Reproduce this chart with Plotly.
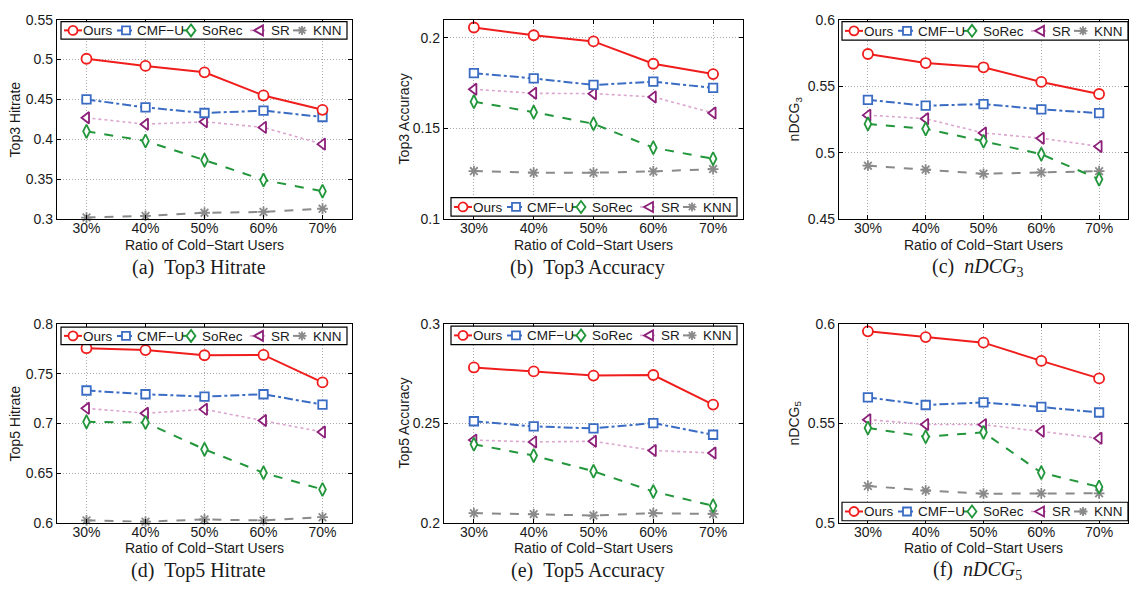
import plotly.graph_objects as go

W, H = 1130, 591

# ---------------- data ----------------
ratios = ["30%", "40%", "50%", "60%", "70%"]
methods = ["Ours", "CMF\u2212U", "SoRec", "SR", "KNN"]

hit3_ours = [0.501, 0.492, 0.484, 0.455, 0.437]
hit3_cmfu = [0.450, 0.440, 0.433, 0.436, 0.428]
hit3_sorec = [0.410, 0.398, 0.374, 0.349, 0.335]
hit3_sr = [0.427, 0.419, 0.422, 0.415, 0.394]
hit3_knn = [0.302, 0.304, 0.308, 0.309, 0.313]

acc3_ours = [0.2057, 0.2014, 0.1980, 0.1857, 0.1800]
acc3_cmfu = [0.1805, 0.1776, 0.1740, 0.1758, 0.1724]
acc3_sorec = [0.1648, 0.1590, 0.1526, 0.1394, 0.1333]
acc3_sr = [0.1716, 0.1694, 0.1692, 0.1674, 0.1585]
acc3_knn = [0.1265, 0.1256, 0.1256, 0.1263, 0.1276]

ndcg3_ours = [0.5742, 0.5674, 0.5642, 0.5532, 0.5441]
ndcg3_cmfu = [0.5397, 0.5353, 0.5365, 0.5326, 0.5297]
ndcg3_sorec = [0.5216, 0.5179, 0.5086, 0.4988, 0.4800]
ndcg3_sr = [0.5282, 0.5255, 0.5148, 0.5108, 0.5047]
ndcg3_knn = [0.4902, 0.4873, 0.4841, 0.4851, 0.4861]

hit5_ours = [0.7758, 0.7739, 0.7687, 0.7690, 0.7413]
hit5_cmfu = [0.7332, 0.7294, 0.7271, 0.7294, 0.7190]
hit5_sorec = [0.7016, 0.7010, 0.6739, 0.6503, 0.6335]
hit5_sr = [0.7152, 0.7103, 0.7142, 0.7029, 0.6913]
hit5_knn = [0.6023, 0.6010, 0.6032, 0.6023, 0.6055]

acc5_ours = [0.2782, 0.2762, 0.2741, 0.2744, 0.2595]
acc5_cmfu = [0.2511, 0.2485, 0.2475, 0.2502, 0.2443]
acc5_sorec = [0.2395, 0.2338, 0.2259, 0.2157, 0.2085]
acc5_sr = [0.2416, 0.2407, 0.2410, 0.2364, 0.2351]
acc5_knn = [0.2048, 0.2043, 0.2036, 0.2048, 0.2044]

ndcg5_ours = [0.5964, 0.5935, 0.5907, 0.5815, 0.5727]
ndcg5_cmfu = [0.5631, 0.5593, 0.5606, 0.5583, 0.5555]
ndcg5_sorec = [0.5477, 0.5433, 0.5455, 0.5252, 0.5180]
ndcg5_sr = [0.5519, 0.5495, 0.5494, 0.5461, 0.5425]
ndcg5_knn = [0.5185, 0.5162, 0.5146, 0.5148, 0.5148]

hit3_ticks = [0.3, 0.35, 0.4, 0.45, 0.5, 0.55]
hit3_ticklabels = ["0.3", "0.35", "0.4", "0.45", "0.5", "0.55"]
acc3_ticks = [0.1, 0.15, 0.2]
acc3_ticklabels = ["0.1", "0.15", "0.2"]
ndcg3_ticks = [0.45, 0.5, 0.55, 0.6]
ndcg3_ticklabels = ["0.45", "0.5", "0.55", "0.6"]
hit5_ticks = [0.6, 0.65, 0.7, 0.75, 0.8]
hit5_ticklabels = ["0.6", "0.65", "0.7", "0.75", "0.8"]
acc5_ticks = [0.2, 0.25, 0.3]
acc5_ticklabels = ["0.2", "0.25", "0.3"]
ndcg5_ticks = [0.5, 0.55, 0.6]
ndcg5_ticklabels = ["0.5", "0.55", "0.6"]

y_titles = ["Top3 Hitrate", "Top3 Accuracy", "nDCG<sub>3</sub>",
            "Top5 Hitrate", "Top5 Accuracy", "nDCG<sub>5</sub>"]
captions = ["(a)\u2002Top3 Hitrate", "(b)\u2002Top3 Accuracy", "(c)\u2002<i>nDCG</i><sub>3</sub>",
            "(d)\u2002Top5 Hitrate", "(e)\u2002Top5 Accuracy", "(f)\u2002<i>nDCG</i><sub>5</sub>"]
x_title = "Ratio of Cold\u2212Start Users"

panels_data = [
    [hit3_ours, hit3_cmfu, hit3_sorec, hit3_sr, hit3_knn],
    [acc3_ours, acc3_cmfu, acc3_sorec, acc3_sr, acc3_knn],
    [ndcg3_ours, ndcg3_cmfu, ndcg3_sorec, ndcg3_sr, ndcg3_knn],
    [hit5_ours, hit5_cmfu, hit5_sorec, hit5_sr, hit5_knn],
    [acc5_ours, acc5_cmfu, acc5_sorec, acc5_sr, acc5_knn],
    [ndcg5_ours, ndcg5_cmfu, ndcg5_sorec, ndcg5_sr, ndcg5_knn],
]
panels_ticks = [
    (hit3_ticks, hit3_ticklabels, [0.3, 0.55]),
    (acc3_ticks, acc3_ticklabels, [0.1, 0.21]),
    (ndcg3_ticks, ndcg3_ticklabels, [0.45, 0.6]),
    (hit5_ticks, hit5_ticklabels, [0.6, 0.8]),
    (acc5_ticks, acc5_ticklabels, [0.2, 0.3]),
    (ndcg5_ticks, ndcg5_ticklabels, [0.5, 0.6]),
]

# ---------------- styles / layout ----------------
FONT = "Liberation Sans, Arial, Helvetica, sans-serif"
SERIF = "Liberation Serif, Times New Roman, serif"
TXT = "#1a1a1a"

styles = [
    dict(color="#f01d1d", line_color="#f01d1d", dash="solid", symbol="circle", size=10, lw=2.0),
    dict(color="#3b6cc4", line_color="#3b6cc4", dash="dashdot", symbol="square", size=8.5, lw=2.0),
    dict(color="#22963a", line_color="#22963a", dash="dash", symbol="diamond-tall", size=9.5, lw=2.0),
    dict(color="#8c1f78", line_color="#dba6cf", dash="dot", symbol="triangle-left", size=10, lw=1.6),
    dict(color="#8a8a8a", line_color="#8a8a8a", dash="dash", symbol="asterisk-open", size=9, lw=2.0),
]

# plot boxes in pixels (left, right, top, bottom)
boxes = [
    (57, 352, 12, 217), (444, 743, 12, 217), (839, 1128, 12, 217),
    (57, 352, 325, 529), (444, 743, 325, 529), (839, 1128, 325, 529),
]
# legend boxes (left, top, bottom)
legend_boxes = [
    (61, 14, 32), (451, 195, 214), (842, 14, 33),
    (61, 328, 346), (451, 327, 346), (842, 508, 527),
]
LEG_W = 286
sym_off = [12, 65, 130, 198, 241]
txt_off = [21, 75, 140, 209, 251]


def px(x):
    return x / W


def py(y):
    return 1 - y / H


fig = go.Figure()
layout = dict(
    width=W, height=H, margin=dict(l=0, r=0, t=0, b=0),
    paper_bgcolor="white", plot_bgcolor="white", showlegend=False,
    font=dict(family=FONT, size=14, color=TXT),
)
shapes = []
annotations = []

for i, (data, (tv, tt, yr), box) in enumerate(zip(panels_data, panels_ticks, boxes)):
    n = i + 1
    xa = "x" if n == 1 else f"x{n}"
    ya = "y" if n == 1 else f"y{n}"
    l, r, t, b = box
    axis_common = dict(
        showgrid=True, gridcolor="#a8a8a8", griddash="1px,2px", gridwidth=1,
        showline=True, linecolor="black", linewidth=1.3, mirror="ticks",
        ticks="inside", ticklen=4, tickcolor="black", zeroline=False,
        tickfont=dict(family=FONT, size=14, color=TXT),
    )
    layout["xaxis" if n == 1 else f"xaxis{n}"] = dict(
        axis_common, domain=[px(l), px(r)], anchor=ya, type="category",
        range=[-0.5, 4.5], categoryorder="array", categoryarray=ratios,
        ticklabelstandoff=-4,
    )
    layout["yaxis" if n == 1 else f"yaxis{n}"] = dict(
        axis_common, domain=[py(b), py(t)], anchor=xa, range=yr,
        tickvals=tv, ticktext=tt,
    )
    # traces (draw KNN first so Ours ends on top)
    for k in [4, 3, 2, 1, 0]:
        s = styles[k]
        open_sym = s["symbol"].endswith("-open")
        fig.add_trace(go.Scatter(
            x=ratios, y=data[k], xaxis=xa, yaxis=ya, mode="lines+markers",
            name=methods[k],
            line=dict(color=s["line_color"], width=s["lw"], dash=s["dash"]),
            marker=dict(symbol=s["symbol"], size=s["size"],
                        color=s["color"] if open_sym else "white",
                        line=dict(color=s["color"], width=1.8)),
            cliponaxis=False,
        ))
    # axis titles
    cx = (l + r) / 2
    annotations.append(dict(text=x_title, x=px(cx), y=py(243.5 if n <= 3 else 555.5),
                            xref="paper", yref="paper", showarrow=False,
                            font=dict(family=FONT, size=14, color=TXT),
                            xanchor="center", yanchor="middle"))
    ytx = [15, 404, 795][i % 3]
    annotations.append(dict(text=y_titles[i], x=px(ytx), y=py((t + b) / 2),
                            xref="paper", yref="paper", showarrow=False, textangle=-90,
                            font=dict(family=FONT, size=14, color=TXT),
                            xanchor="center", yanchor="middle"))
    annotations.append(dict(text=captions[i], x=px(cx - 6), y=py(267 if n <= 3 else 578),
                            xref="paper", yref="paper", showarrow=False,
                            font=dict(family=SERIF, size=20, color=TXT),
                            xanchor="center", yanchor="middle"))
    # legend
    lx, lt, lb = legend_boxes[i]
    shapes.append(dict(type="rect", xref="paper", yref="paper",
                       x0=px(lx), x1=px(lx + LEG_W), y0=py(lb), y1=py(lt),
                       line=dict(color="black", width=1.2), fillcolor="white", layer="above"))
    cy = (lt + lb) / 2
    for k in range(5):
        s = styles[k]
        scx = lx + sym_off[k]
        shapes.append(dict(type="line", xref="paper", yref="paper",
                           x0=px(scx - 9), x1=px(scx + 9), y0=py(cy), y1=py(cy),
                           line=dict(color=s["line_color"], width=s["lw"], dash=s["dash"]),
                           layer="above"))
        base = dict(xref="paper", yref="paper", xsizemode="pixel", ysizemode="pixel",
                    xanchor=px(scx), yanchor=py(cy), layer="above",
                    line=dict(color=s["color"], width=1.8), fillcolor="white")
        if k == 0:
            shapes.append(dict(base, type="circle", x0=-4.5, x1=4.5, y0=-4.5, y1=4.5))
        elif k == 1:
            shapes.append(dict(base, type="rect", x0=-4, x1=4, y0=-4, y1=4))
        elif k == 2:
            shapes.append(dict(base, type="path", path="M0,6 L4.5,0 L0,-6 L-4.5,0 Z"))
        elif k == 3:
            shapes.append(dict(base, type="path", path="M4,5 L-5,0 L4,-5 Z"))
        else:
            b2 = dict(base)
            b2.pop("fillcolor")
            shapes.append(dict(b2, type="path",
                               path="M0,-4.5 L0,4.5 M-4.5,0 L4.5,0 M-3.2,-3.2 L3.2,3.2 M-3.2,3.2 L3.2,-3.2"))
        annotations.append(dict(text=methods[k], x=px(lx + txt_off[k]), y=py(cy + 0.5),
                                xref="paper", yref="paper", showarrow=False,
                                font=dict(family=FONT, size=13.5, color=TXT),
                                xanchor="left", yanchor="middle", borderpad=0))

layout["shapes"] = shapes
layout["annotations"] = annotations
fig.update_layout(**layout)
fig.write_html("out.html")
